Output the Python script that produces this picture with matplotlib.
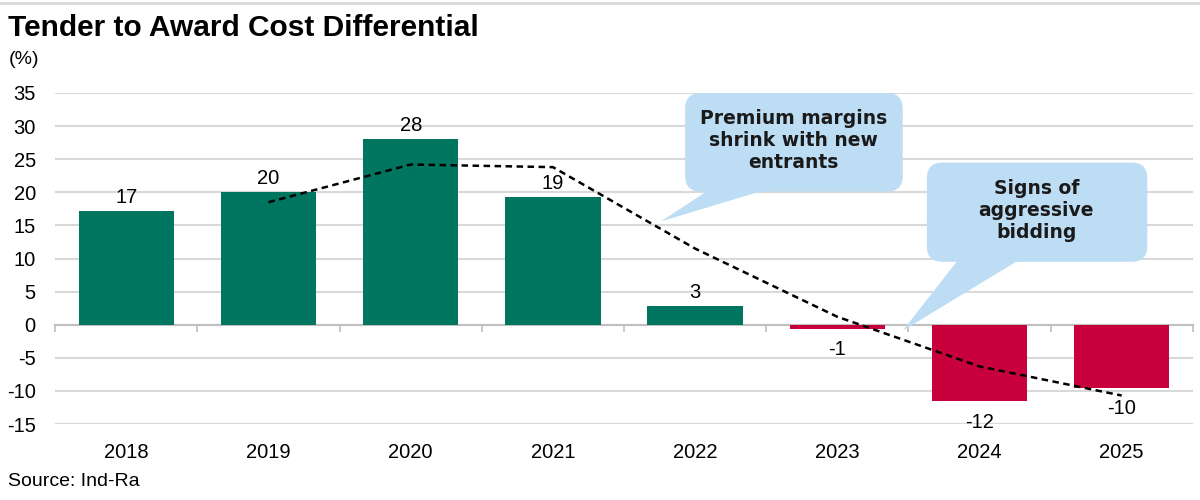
import matplotlib
matplotlib.use("Agg")
from matplotlib import pyplot as plt
from matplotlib.patches import FancyBboxPatch, Polygon
from matplotlib.lines import Line2D
import matplotlib.transforms as mtransforms

years = ["2018", "2019", "2020", "2021", "2022", "2023", "2024", "2025"]
differential = [17.1, 20.0, 28.0, 19.3, 2.8, -0.7, -11.6, -9.6]
bar_labels = ["17", "20", "28", "19", "3", "-1", "-12", "-10"]
trend_years = ["2019", "2020", "2021", "2022", "2023", "2024", "2025"]
trend = [18.5, 24.2, 23.8, 11.5, 1.2, -6.3, -10.7]
y_ticks = [-15, -10, -5, 0, 5, 10, 15, 20, 25, 30, 35]

GREEN = "#007560"
RED = "#C8003C"
BLUE = "#BDDDF5"
FONT = ["Liberation Sans", "DejaVu Sans"]


def callout(ax, box, tip, base, text, text_xy):
    x0, x1, y0, y1 = box
    # px per unit in x vs y, so the corners stay round
    aspect = 142.3 / 6.62
    patch = FancyBboxPatch((x0, y0), x1 - x0, y1 - y0,
                           boxstyle="round,pad=0,rounding_size=0.11",
                           mutation_aspect=aspect, fc=BLUE, ec="none", zorder=5)
    ax.add_patch(patch)
    ax.add_patch(Polygon([(base[0], y0 + 0.3), (base[1], y0 + 0.3), tip],
                         closed=True, fc=BLUE, ec="none", zorder=5))
    ax.text(text_xy[0], text_xy[1], text, ha="center", va="center",
            fontsize=13.5, fontweight="bold", family="DejaVu Sans",
            color="#1a1a1a", linespacing=1.2, zorder=6)


def main():
    fig = plt.figure(figsize=(12, 5), dpi=100)
    ax = fig.add_axes([0.046, 0.152, 0.948, 0.662])

    x = list(range(len(years)))
    colors = [GREEN if v >= 0 else RED for v in differential]
    ax.bar(x, differential, width=0.67, color=colors, zorder=3)

    tx = [years.index(y) for y in trend_years]
    ax.plot(tx, trend, color="black", lw=1.8, linestyle=(0, (2.6, 1.8)), zorder=4)

    for xi, v, lab in zip(x, differential, bar_labels):
        if v >= 0:
            ax.annotate(lab, (xi, v), xytext=(0, 3), textcoords="offset points",
                        ha="center", va="bottom", fontsize=14.5, family=FONT)
        else:
            ax.annotate(lab, (xi, v), xytext=(0, -8), textcoords="offset points",
                        ha="center", va="top", fontsize=14.5, family=FONT)

    ax.set_xlim(-0.5, len(years) - 0.5)
    ax.set_ylim(-15, 35)
    ax.set_yticks(y_ticks)
    ax.set_yticklabels([str(t) for t in y_ticks], family=FONT, fontsize=14.5)
    ax.tick_params(axis="y", length=0, pad=14)
    ax.grid(axis="y", color="#D9D9D9", lw=1.5, zorder=0)
    ax.set_axisbelow(True)

    for s in ["top", "right", "left"]:
        ax.spines[s].set_visible(False)
    ax.spines["bottom"].set_position(("data", 0))
    ax.spines["bottom"].set_color("#BFBFBF")
    ax.spines["bottom"].set_linewidth(1.5)
    ax.set_xticks([i - 0.5 for i in range(len(years) + 1)])
    ax.set_xticklabels([])
    ax.tick_params(axis="x", direction="out", length=5, color="#BFBFBF", width=1.2)

    trans = mtransforms.blended_transform_factory(ax.transData, ax.transAxes)
    for xi, yr in zip(x, years):
        ax.text(xi, -0.085, yr, transform=trans, ha="center", va="center",
                fontsize=14.5, family=FONT)

    callout(ax, (3.93, 5.46, 20.1, 35.0), (3.76, 15.6), (4.10, 4.50),
            "Premium margins\nshrink with new\nentrants", (4.69, 27.8))
    callout(ax, (5.63, 7.18, 9.5, 24.5), (5.46, -0.9), (5.85, 6.28),
            "Signs of\naggressive\nbidding", (6.40, 17.3))

    fig.text(0.007, 0.944, "Tender to Award Cost Differential", fontsize=21.5,
             fontweight="bold", family=FONT, va="center")
    fig.text(0.007, 0.88, "(%)", fontsize=14, family=FONT, va="center")
    fig.text(0.007, 0.036, "Source: Ind-Ra", fontsize=14, family=FONT, va="center")
    fig.add_artist(Line2D([0, 1], [0.995, 0.995], transform=fig.transFigure,
                          color="#D9D9D9", lw=2))

    fig.savefig("out.png", dpi=100)


if __name__ == "__main__":
    main()
